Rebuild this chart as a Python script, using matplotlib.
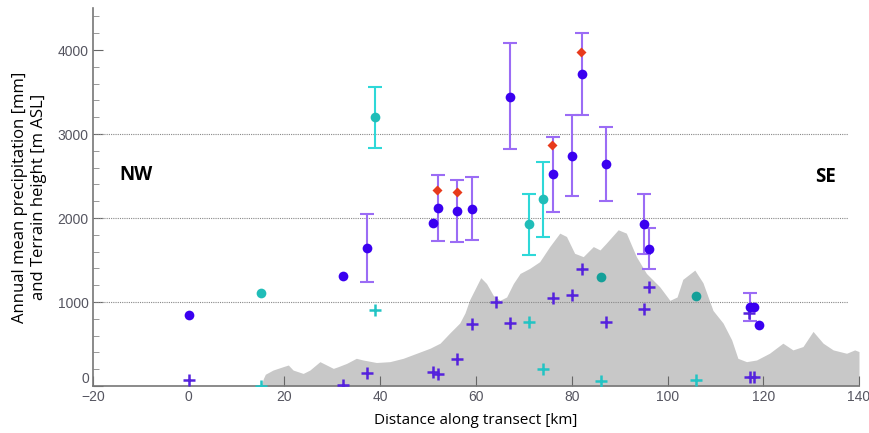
import matplotlib.pyplot as plt
from matplotlib.ticker import MultipleLocator
import numpy as np

# terrain profile along the transect (km, m ASL)
terrain_km = [15.1, 15.6, 16.0, 17.6, 19.7, 20.8, 21.8, 23.9, 25.3, 27.4, 28.8, 30.2, 31.2,
              33.0, 35.0, 36.4, 39.2, 42.0, 44.8, 47.6, 50.4, 52.5, 54.5, 56.6, 57.7,
              58.7, 61.0, 62.2, 63.6, 65.0, 66.4, 67.8, 69.2, 71.2, 73.3, 75.4, 77.5,
              78.9, 80.6, 82.4, 84.5, 85.9, 87.2, 89.7, 91.4, 93.5, 95.6, 98.4, 100.5,
              102.0, 103.2, 105.7, 107.4, 109.5, 111.6, 113.4, 114.7, 116.5, 118.6,
              121.3, 124.1, 126.2, 128.3, 130.4, 132.5, 134.6, 137.4, 139.1, 140.0]
terrain_m = [0, 90, 140, 190, 230, 250, 190, 150, 190, 290, 250, 210, 230,
             270, 330, 310, 280, 290, 330, 390, 450, 510, 630, 750, 870,
             1030, 1290, 1220, 1080, 1020, 1060, 1220, 1340, 1400, 1480, 1660, 1820,
             1780, 1580, 1540, 1660, 1620, 1700, 1860, 1820, 1540, 1340, 1180, 1020,
             1060, 1270, 1380, 1230, 900, 750, 550, 330, 290, 310,
             390, 510, 430, 470, 650, 510, 430, 390, 430, 410]

# station precipitation (blue) with spread
blue_km = [0, 32.2, 37.2, 51.0, 52.1, 56.0, 59.2, 67.1, 76.1, 80.1, 82.1, 87.1,
           95.1, 96.1, 117.2, 118.1, 119.1]
blue_mm = [845, 1310, 1643, 1940, 2119, 2083, 2110, 3440, 2524, 2738, 3714, 2643,
           1929, 1631, 940, 940, 726]
blue_lo = [None, None, 1238, None, 1730, 1710, 1738, 2817, 2075, 2262, 3230, 2206,
           1571, 1389, 770, None, None]
blue_hi = [None, None, 2048, None, 2515, 2452, 2488, 4080, 2968, 3222, 4198, 3079,
           2286, 1877, 1107, None, None]

# station precipitation (cyan) with spread
cyan_km = [15.1, 39.0, 71.1, 74.0]
cyan_mm = [1111, 3199, 1929, 2222]
cyan_lo = [None, 2837, 1563, 1778]
cyan_hi = [None, 3560, 2290, 2667]
teal_km = [86.1, 106.0]
teal_mm = [1298, 1067]

# red diamonds
red_km = [51.9, 56.0, 75.9, 81.9]
red_mm = [2337, 2306, 2865, 3980]

# station heights
pcross_km = [0, 32.2, 37.2, 51.0, 52.1, 56.0, 59.2, 64.2, 67.1, 76.1, 80.1, 82.1,
             87.1, 95.1, 96.1, 117.0, 117.2, 118.1]
pcross_m = [71, 12, 155, 167, 143, 321, 738, 1000, 750, 1048, 1083, 1393,
            762, 917, 1179, 869, 107, 107]
ccross_km = [15.1, 39.0, 71.1, 74.0, 86.1, 106.0]
ccross_m = [0, 905, 762, 202, 60, 71]


def err_arrays(vals, lo, hi):
    idx = [i for i, l in enumerate(lo) if l is not None]
    v = np.array(vals, dtype=float)[idx]
    low = np.array([lo[i] for i in idx], dtype=float)
    high = np.array([hi[i] for i in idx], dtype=float)
    return idx, np.vstack((v - low, high - v))


def main():
    fig = plt.figure(figsize=(8.69, 4.33), dpi=100)
    ax = fig.add_axes([0.107, 0.1085, 0.8815, 0.873])

    ax.fill_between(terrain_km, 0, terrain_m, color='#c8c8c8', lw=0, zorder=1)
    for yv in (1000, 2000, 3000):
        ax.axhline(yv, xmin=0.003, xmax=0.985, color='#888888', lw=0.8,
                   ls=(0, (1, 1)), zorder=2)

    idx, yerr = err_arrays(blue_mm, blue_lo, blue_hi)
    ax.errorbar(np.array(blue_km)[idx], np.array(blue_mm)[idx], yerr=yerr, fmt='none',
                ecolor='#9b6cf5', elinewidth=1.5, capsize=5, capthick=1.5, zorder=3)
    idx, yerr = err_arrays(cyan_mm, cyan_lo, cyan_hi)
    ax.errorbar(np.array(cyan_km)[idx], np.array(cyan_mm)[idx], yerr=yerr, fmt='none',
                ecolor='#2ed8d8', elinewidth=1.5, capsize=5, capthick=1.5, zorder=3)

    ax.plot(pcross_km, pcross_m, '+', color='#5522dd', ms=8, mew=1.8, zorder=4)
    ax.plot(ccross_km, ccross_m, '+', color='#22c4c4', ms=8, mew=1.8, zorder=4)
    ax.plot(blue_km, blue_mm, 'o', color='#3a00f0', ms=7, mec='none', zorder=5)
    ax.plot(cyan_km, cyan_mm, 'o', color='#20bdb8', ms=7, mec='none', zorder=5)
    ax.plot(teal_km, teal_mm, 'o', color='#14a099', ms=7, mec='none', zorder=5)
    ax.plot(red_km, red_mm, 'D', color='#e83a1c', ms=5, mec='none', zorder=6)

    ax.text(-11.0, 2510, 'NW', fontsize=13.5, fontweight='bold', family='Open Sans',
            ha='center', va='center')
    ax.text(132.9, 2490, 'SE', fontsize=13.5, fontweight='bold', family='Open Sans',
            ha='center', va='center')

    ax.set_xlim(-20, 140)
    ax.set_ylim(0, 4500)
    ax.set_xticks(np.arange(-20, 141, 20))
    ax.set_yticks([0, 1000, 2000, 3000, 4000])
    ax.yaxis.set_minor_locator(MultipleLocator(200))

    for s in ('top', 'right'):
        ax.spines[s].set_visible(False)
    for s in ('left', 'bottom'):
        ax.spines[s].set_color('#777777')
        ax.spines[s].set_linewidth(1.2)
    ax.tick_params(axis='both', which='major', direction='in', length=7,
                   color='#666666', labelcolor='#555560', labelsize=10, pad=3)
    ax.tick_params(axis='y', which='minor', direction='in', length=4, color='#888888')
    for lab in ax.get_xticklabels() + ax.get_yticklabels():
        lab.set_family('Liberation Sans')
    ax.get_yticklabels()[0].set_va('bottom')

    ax.set_xlabel('Distance along transect [km]', family='Open Sans', fontsize=11,
                  labelpad=6)
    ax.set_ylabel('Annual mean precipitation [mm]\nand Terrain height [m ASL]',
                  family='Open Sans', fontsize=12, labelpad=8)

    plt.savefig('out.png', dpi=100)


if __name__ == '__main__':
    main()
